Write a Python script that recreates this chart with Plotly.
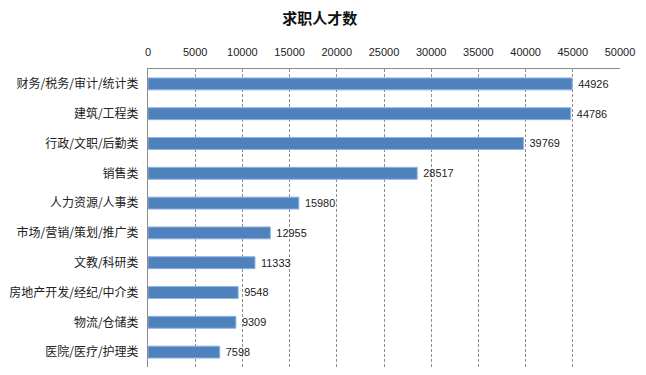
import plotly.graph_objects as go

categories = ["财务/税务/审计/统计类", "建筑/工程类", "行政/文职/后勤类", "销售类", "人力资源/人事类",
              "市场/营销/策划/推广类", "文教/科研类", "房地产开发/经纪/中介类", "物流/仓储类", "医院/医疗/护理类"]
values = [44926, 44786, 39769, 28517, 15980, 12955, 11333, 9548, 9309, 7598]
tick_vals = [0, 5000, 10000, 15000, 20000, 25000, 30000, 35000, 40000, 45000, 50000]

fig = go.Figure(go.Bar(
    x=values, y=categories, orientation="h",
    marker=dict(color="#4F81BD", line=dict(color="#8EB4E3", width=1)),
    width=0.4,
    text=[" " + str(v) for v in values], textposition="outside",
    textfont=dict(family="Liberation Sans, Arial", size=11, color="#222"),
    cliponaxis=False,
))

fig.update_layout(
    width=646, height=375,
    margin=dict(l=148, r=26, t=69, b=8),
    paper_bgcolor="white", plot_bgcolor="white",
    title=dict(text="<b>求职人才数</b>", x=0.495, xanchor="center", y=0.949, yanchor="middle",
               font=dict(family="Noto Sans CJK SC", size=15, color="#111")),
    showlegend=False,
    bargap=0.6,
)
fig.update_xaxes(
    side="top", range=[0, 50000], tickvals=tick_vals, ticktext=[str(t) for t in tick_vals],
    showgrid=True, gridcolor="#8C8C8C", griddash="3px,2px", gridwidth=1,
    showline=True, linecolor="#8C8C8C", linewidth=1, mirror=False,
    ticks="", ticklabelstandoff=8, automargin=False,
    tickfont=dict(family="Liberation Sans, Arial", size=11, color="#222"),
    zeroline=False,
)
fig.update_yaxes(
    autorange="reversed", showline=True, linecolor="#8C8C8C", linewidth=1,
    ticks="", showgrid=False, automargin=False,
    tickfont=dict(family="Noto Sans CJK SC", size=12, color="#222"),
    ticklabelstandoff=6,
)
fig.write_html("out.html", config={"displayModeBar": False},
               post_script="document.body.style.margin='0';")
